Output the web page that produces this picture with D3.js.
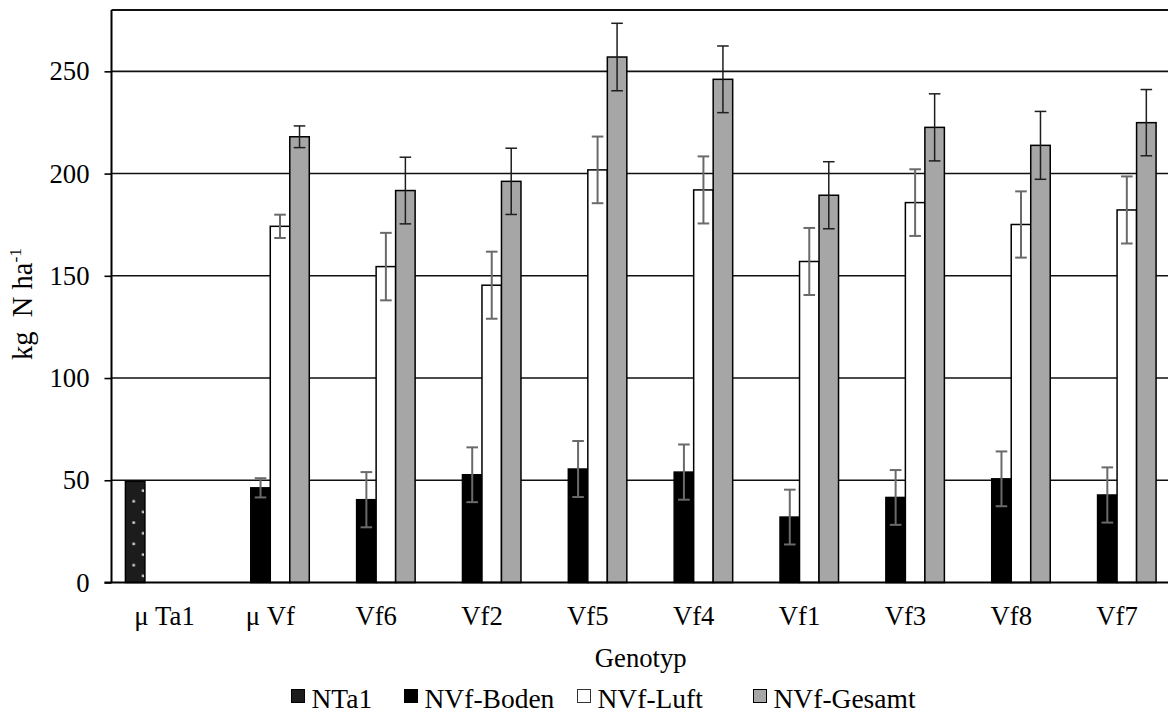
<!DOCTYPE html>
<html>
<head>
<meta charset="utf-8">
<script src="https://cdn.jsdelivr.net/npm/d3@7"></script>
<style>
  html, body { margin: 0; padding: 0; background: #fff; }
  svg { display: block; font-family: "Liberation Serif", "Times New Roman", serif; }
  svg text { font-family: "Liberation Serif", "Times New Roman", serif; }
</style>
</head>
<body>
<svg id="chart" width="1168" height="715"></svg>
<script>
// Stickstoffmengen je Genotyp (kg N ha-1) mit Standardfehlern
const categories = ["μ Ta1", "μ Vf", "Vf6", "Vf2", "Vf5", "Vf4", "Vf1", "Vf3", "Vf8", "Vf7"];
const seriesNames = ["NTa1", "NVf-Boden", "NVf-Luft", "NVf-Gesamt"];

const nTa1      = [49.5, null, null, null, null, null, null, null, null, null];
const boden     = [null, 46.3, 40.5, 52.7, 55.5, 54.0, 32.0, 41.6, 50.7, 42.8];
const bodenErr  = [null, 4.7, 13.5, 13.4, 13.7, 13.5, 13.4, 13.4, 13.4, 13.5];
const luft      = [null, 174.2, 154.5, 145.4, 201.8, 192.0, 157.0, 185.8, 175.1, 182.2];
const luftErr   = [null, 5.7, 16.5, 16.4, 16.3, 16.4, 16.4, 16.3, 16.2, 16.4];
const gesamt    = [null, 218.0, 191.7, 196.2, 257.0, 246.1, 189.4, 222.6, 213.8, 224.9];
const gesamtErr = [null, 5.3, 16.3, 16.2, 16.5, 16.3, 16.4, 16.4, 16.6, 16.2];

const yTicks = [0, 50, 100, 150, 200, 250];
const yMax = 280;

const seriesValues = [nTa1, boden, luft, gesamt];
const seriesErrors = [null, bodenErr, luftErr, gesamtErr];

const svg = d3.select("#chart");
const plot = { left: 111.5, right: 1170, top: 10, bottom: 582.5 };
const fontSize = 26.7;

const x0 = d3.scaleBand().domain(categories).range([plot.left, plot.right]).paddingInner(0).paddingOuter(0);
const groupPad = 0.1315 * x0.bandwidth();
const x1 = d3.scaleBand().domain(seriesNames).range([groupPad, x0.bandwidth() - groupPad]).padding(0);
const y = d3.scaleLinear().domain([0, yMax]).range([plot.bottom, plot.top]);

// Punktmuster für NTa1
const defs = svg.append("defs");
const pat = defs.append("pattern")
  .attr("id", "dots")
  .attr("patternUnits", "userSpaceOnUse")
  .attr("width", 18.8).attr("height", 21.3);
pat.append("rect").attr("width", 18.8).attr("height", 21.3).attr("fill", "#1c1c1c");
pat.append("circle").attr("cx", 8.3).attr("cy", 20).attr("r", 1.4).attr("fill", "#d9d9d9");
pat.append("circle").attr("cx", 17.7).attr("cy", 9.4).attr("r", 1.4).attr("fill", "#d9d9d9");

const fills = { "NTa1": "url(#dots)", "NVf-Boden": "#000", "NVf-Luft": "#fff", "NVf-Gesamt": "#a6a6a6" };
const errColors = { "NVf-Boden": "#6a6a6a", "NVf-Luft": "#6a6a6a", "NVf-Gesamt": "#1e1e1e" };

// Gitterlinien
svg.append("g").selectAll("line")
  .data(yTicks.filter(d => d > 0))
  .join("line")
  .attr("x1", plot.left).attr("x2", 1168)
  .attr("y1", d => y(d)).attr("y2", d => y(d))
  .attr("stroke", "#111").attr("stroke-width", 1.6);

// Rahmen oben
svg.append("line")
  .attr("x1", plot.left).attr("x2", 1168)
  .attr("y1", plot.top).attr("y2", plot.top)
  .attr("stroke", "#111").attr("stroke-width", 1.8);

// Balken
const rows = [];
seriesNames.forEach((s, si) => {
  categories.forEach((c, ci) => {
    const v = seriesValues[si][ci];
    if (v == null) return;
    const e = seriesErrors[si] ? seriesErrors[si][ci] : null;
    rows.push({ series: s, cat: c, value: v, err: e });
  });
});

svg.append("g").selectAll("rect")
  .data(rows)
  .join("rect")
  .attr("x", d => x0(d.cat) + x1(d.series))
  .attr("y", d => y(d.value))
  .attr("width", x1.bandwidth())
  .attr("height", d => y(0) - y(d.value))
  .attr("fill", d => fills[d.series])
  .attr("stroke", "#000")
  .attr("stroke-width", 1.5)
  .each(function(d) {
    if (d.series === "NTa1") {
      pat.attr("x", x0(d.cat) + x1(d.series)).attr("y", y(d.value));
    }
  });

// Fehlerbalken
const capHalf = 5.8;
const errG = svg.append("g");
rows.filter(d => d.err != null).forEach(d => {
  const cx = x0(d.cat) + x1(d.series) + x1.bandwidth() / 2;
  const yt = y(d.value + d.err), yb = y(d.value - d.err);
  const col = errColors[d.series];
  const w = d.series === "NVf-Gesamt" ? 1.5 : 2;
  const g = errG.append("g").attr("stroke", col).attr("stroke-width", w);
  g.append("line").attr("x1", cx).attr("x2", cx).attr("y1", yt).attr("y2", yb);
  g.append("line").attr("x1", cx - capHalf).attr("x2", cx + capHalf).attr("y1", yt).attr("y2", yt);
  g.append("line").attr("x1", cx - capHalf).attr("x2", cx + capHalf).attr("y1", yb).attr("y2", yb);
});

// Y-Achse
const yAxis = d3.axisLeft(y).tickValues(yTicks).tickSize(7).tickPadding(15).tickFormat(d3.format("d"));
const yg = svg.append("g").attr("transform", `translate(${plot.left},0)`).call(yAxis);
yg.attr("font-family", null).attr("font-size", null);
yg.select(".domain").attr("stroke", "#000").attr("stroke-width", 2).attr("d", `M0,${plot.top}V${plot.bottom}`);
yg.selectAll(".tick line").attr("stroke", "#000").attr("stroke-width", 1.6);
yg.selectAll(".tick text").attr("font-size", fontSize).attr("fill", "#000");

// X-Achse
const xAxis = d3.axisBottom(x0).tickSize(0).tickPadding(0);
const xg = svg.append("g").attr("transform", `translate(0,${plot.bottom})`).call(xAxis);
xg.attr("font-family", null).attr("font-size", null);
xg.select(".domain").attr("stroke", "#000").attr("stroke-width", 2).attr("d", `M${plot.left - 7},0H1168`);
xg.selectAll(".tick text").attr("font-size", fontSize).attr("fill", "#000")
  .attr("dy", null).attr("y", 42.5);

// Achsentitel
svg.append("text")
  .attr("x", (plot.left + plot.right) / 2).attr("y", 667)
  .attr("text-anchor", "middle").attr("font-size", fontSize).text("Genotyp");

const yt = svg.append("text")
  .attr("transform", "translate(32,304) rotate(-90)")
  .attr("text-anchor", "middle").attr("font-size", 28.5)
  .style("white-space", "pre");
yt.append("tspan").text("kg  N ha");
yt.append("tspan").attr("font-size", 17.5).attr("dy", -11).text("-1");

// Legende
const legendX = [291, 404, 577, 753];
const lg = svg.append("g");
seriesNames.forEach((s, i) => {
  const g = lg.append("g").attr("transform", `translate(${legendX[i]},0)`);
  g.append("rect").attr("x", 0.5).attr("y", 689.5).attr("width", 13).attr("height", 13)
    .attr("fill", s === "NTa1" ? "#1c1c1c" : fills[s])
    .attr("stroke", s === "NVf-Luft" ? "#333" : "#000").attr("stroke-width", 1);
  g.append("text").attr("x", 20.5).attr("y", 707.5).attr("font-size", 27.5).text(s);
});
</script>
</body>
</html>
